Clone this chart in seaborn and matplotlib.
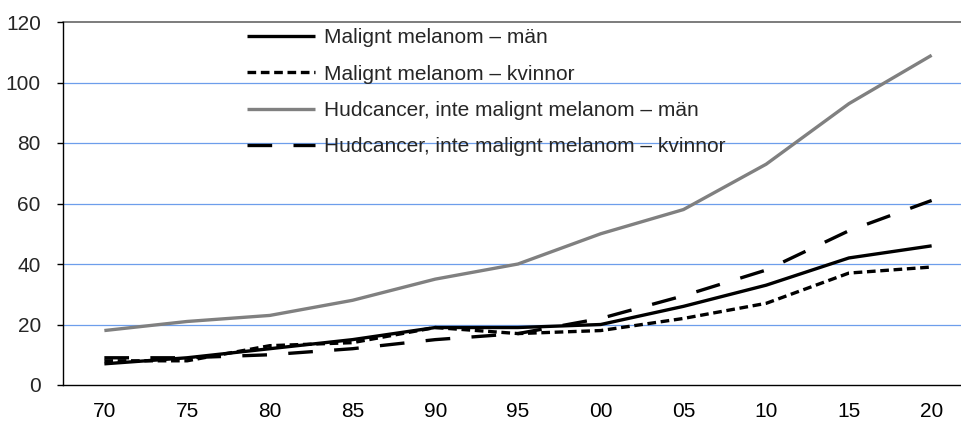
import matplotlib
matplotlib.use("Agg")
import matplotlib.pyplot as plt
import seaborn as sns
import pandas as pd
from matplotlib.ticker import FixedLocator

years = ["70", "75", "80", "85", "90", "95", "00", "05", "10", "15", "20"]
mm_man = [7, 9, 12, 15, 19, 19, 20, 26, 33, 42, 46]
mm_kvinnor = [8, 8, 13, 14, 19, 17, 18, 22, 27, 37, 39]
hud_man = [18, 21, 23, 28, 35, 40, 50, 58, 73, 93, 109]
hud_kvinnor = [9, 9, 10, 12, 15, 17, 22, 29.5, 38, 51, 61]

labels = [
    "Malignt melanom – män",
    "Malignt melanom – kvinnor",
    "Hudcancer, inte malignt melanom – män",
    "Hudcancer, inte malignt melanom – kvinnor",
]
series = [mm_man, mm_kvinnor, hud_man, hud_kvinnor]
colors = ["black", "black", "#808080", "black"]
styles = ["-", (0, (2.6, 1.4)), "-", (0, (7.4, 6.4))]
yticks = [0, 20, 40, 60, 80, 100, 120]

sns.set_style("white")
plt.rcParams["font.family"] = ["Liberation Sans", "DejaVu Sans"]

fig = plt.figure(figsize=(9.61, 4.21), dpi=100)
ax = fig.add_axes([63 / 961, 36 / 421, 910 / 961, 363 / 421])

for lab, vals, c, ls in zip(labels, series, colors, styles):
    df = pd.DataFrame({"year": years, "value": vals})
    sns.lineplot(data=df, x="year", y="value", ax=ax, color=c, lw=2.4,
                 linestyle=ls, label=lab, sort=False, solid_capstyle="butt",
                 dash_capstyle="butt")

ax.set_xlim(-0.5, len(years) - 0.5)
ax.set_ylim(0, 120)
ax.set_yticks(yticks)
ax.set_yticklabels([str(v) for v in yticks])
ax.set_xticks(range(len(years)))
ax.set_xticklabels(years)
ax.xaxis.set_minor_locator(FixedLocator([i - 0.5 for i in range(len(years) + 1)]))
ax.set_xlabel("")
ax.set_ylabel("")

for v in yticks[1:-1]:
    ax.axhline(v, color="#6d9eeb", lw=0.9, zorder=0)
ax.axhline(120, color="#666666", lw=1.2, zorder=0, clip_on=False)

for s in ["right", "top"]:
    ax.spines[s].set_visible(False)
ax.spines["left"].set_color("black")
ax.spines["bottom"].set_color("black")
ax.spines["left"].set_linewidth(1)
ax.spines["bottom"].set_linewidth(1)

ax.tick_params(axis="x", which="major", length=0, pad=12, labelsize=15, colors="black")
ax.tick_params(axis="x", which="minor", length=11, direction="inout", width=1, color="black")
ax.tick_params(axis="y", which="major", length=4, direction="out", width=1, pad=12,
               labelsize=15, color="black", left=True)

ax.legend(loc="upper left", bbox_to_anchor=(247 / 961, 1 - 28 / 421),
          bbox_transform=fig.transFigure, frameon=False, fontsize=15,
          handlelength=3.27, handletextpad=0.43, labelspacing=0.84,
          borderpad=0, borderaxespad=0)

fig.savefig("out.png", dpi=100)
